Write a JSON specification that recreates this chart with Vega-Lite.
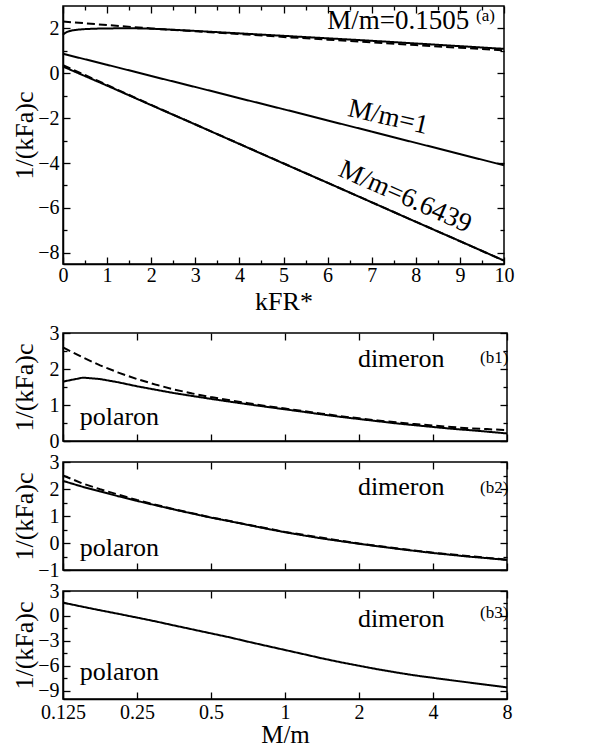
{
  "$schema": "https://vega.github.io/schema/vega-lite/v6.json",
  "padding": {"left": 10, "top": 4, "right": 5, "bottom": 0},
  "config": {
    "font": "Liberation Serif, Times New Roman, serif",
    "view": {"stroke": "black", "strokeWidth": 1.5},
    "style": {
      "guide-label": {"font": "Liberation Serif, Times New Roman, serif", "fill": "black"},
      "guide-title": {"font": "Liberation Serif, Times New Roman, serif", "fill": "black"}
    },
    "axis": {
      "labelFont": "Liberation Serif, Times New Roman, serif", "titleFont": "Liberation Serif, Times New Roman, serif",
      "labelFontSize": 20, "titleFontSize": 26, "labelColor": "black", "titleColor": "black",
      "titleFontWeight": "normal", "domainColor": "black", "domainWidth": 1.5,
      "tickColor": "black", "tickWidth": 1.3, "grid": false, "labelPadding": 11, "labelOverlap": false,
      "labelFlush": false, "format": "~g"
    },
    "text": {"font": "Liberation Serif, Times New Roman, serif", "color": "black"},
    "line": {"color": "black", "strokeWidth": 2}
  },
  "datasets": {
    "a": [
      {"series": "s0", "style": "solid", "x": 0, "y": 1.72},
      {"series": "s0", "style": "solid", "x": 0.05, "y": 1.8},
      {"series": "s0", "style": "solid", "x": 0.1, "y": 1.85},
      {"series": "s0", "style": "solid", "x": 0.2, "y": 1.91},
      {"series": "s0", "style": "solid", "x": 0.35, "y": 1.95},
      {"series": "s0", "style": "solid", "x": 0.5, "y": 1.97},
      {"series": "s0", "style": "solid", "x": 0.75, "y": 1.99},
      {"series": "s0", "style": "solid", "x": 1, "y": 2.0},
      {"series": "s0", "style": "solid", "x": 1.5, "y": 2.01},
      {"series": "s0", "style": "solid", "x": 2, "y": 1.99},
      {"series": "s0", "style": "solid", "x": 3, "y": 1.89},
      {"series": "s0", "style": "solid", "x": 4, "y": 1.78},
      {"series": "s0", "style": "solid", "x": 5, "y": 1.67},
      {"series": "s0", "style": "solid", "x": 6, "y": 1.56},
      {"series": "s0", "style": "solid", "x": 7, "y": 1.45},
      {"series": "s0", "style": "solid", "x": 8, "y": 1.33},
      {"series": "s0", "style": "solid", "x": 9, "y": 1.21},
      {"series": "s0", "style": "solid", "x": 10, "y": 1.09},
      {"series": "d0", "style": "dashed", "x": 0, "y": 2.31},
      {"series": "d0", "style": "dashed", "x": 1, "y": 2.15},
      {"series": "d0", "style": "dashed", "x": 2, "y": 2.0},
      {"series": "d0", "style": "dashed", "x": 3, "y": 1.87},
      {"series": "d0", "style": "dashed", "x": 4, "y": 1.75},
      {"series": "d0", "style": "dashed", "x": 5, "y": 1.62},
      {"series": "d0", "style": "dashed", "x": 6, "y": 1.5},
      {"series": "d0", "style": "dashed", "x": 7, "y": 1.38},
      {"series": "d0", "style": "dashed", "x": 8, "y": 1.26},
      {"series": "d0", "style": "dashed", "x": 9, "y": 1.14},
      {"series": "d0", "style": "dashed", "x": 10, "y": 1.02},
      {"series": "s1", "style": "solid", "x": 0, "y": 0.87},
      {"series": "s1", "style": "solid", "x": 1, "y": 0.38},
      {"series": "s1", "style": "solid", "x": 2, "y": -0.12},
      {"series": "s1", "style": "solid", "x": 3, "y": -0.61},
      {"series": "s1", "style": "solid", "x": 4, "y": -1.11},
      {"series": "s1", "style": "solid", "x": 5, "y": -1.6},
      {"series": "s1", "style": "solid", "x": 6, "y": -2.1},
      {"series": "s1", "style": "solid", "x": 7, "y": -2.6},
      {"series": "s1", "style": "solid", "x": 8, "y": -3.1},
      {"series": "s1", "style": "solid", "x": 9, "y": -3.6},
      {"series": "s1", "style": "solid", "x": 10, "y": -4.1},
      {"series": "s6", "style": "solid", "x": 0, "y": 0.3},
      {"series": "s6", "style": "solid", "x": 1, "y": -0.55},
      {"series": "s6", "style": "solid", "x": 2, "y": -1.42},
      {"series": "s6", "style": "solid", "x": 3, "y": -2.28},
      {"series": "s6", "style": "solid", "x": 4, "y": -3.15},
      {"series": "s6", "style": "solid", "x": 5, "y": -4.02},
      {"series": "s6", "style": "solid", "x": 6, "y": -4.88},
      {"series": "s6", "style": "solid", "x": 7, "y": -5.75},
      {"series": "s6", "style": "solid", "x": 8, "y": -6.62},
      {"series": "s6", "style": "solid", "x": 9, "y": -7.48},
      {"series": "s6", "style": "solid", "x": 10, "y": -8.35},
      {"series": "d6", "style": "dashed", "x": 0, "y": 0.36},
      {"series": "d6", "style": "dashed", "x": 1, "y": -0.52},
      {"series": "d6", "style": "dashed", "x": 2, "y": -1.41},
      {"series": "d6", "style": "dashed", "x": 10, "y": -8.35}
    ],
    "aText": [
      {"label": "M/m=0.1505", "x": 7.6, "y": 2.33, "kind": "flat"},
      {"label": "M/m=1", "x": 7.37, "y": -1.95, "kind": "r1"},
      {"label": "M/m=6.6439", "x": 7.76, "y": -5.5, "kind": "r6"}
    ],
    "b1": [
      {"series": "s", "style": "solid", "x": 0.125, "y": 1.65},
      {"series": "s", "style": "solid", "x": 0.1505, "y": 1.76},
      {"series": "s", "style": "solid", "x": 0.177, "y": 1.72},
      {"series": "s", "style": "solid", "x": 0.21, "y": 1.63},
      {"series": "s", "style": "solid", "x": 0.25, "y": 1.52},
      {"series": "s", "style": "solid", "x": 0.3, "y": 1.42},
      {"series": "s", "style": "solid", "x": 0.354, "y": 1.33},
      {"series": "s", "style": "solid", "x": 0.42, "y": 1.25},
      {"series": "s", "style": "solid", "x": 0.5, "y": 1.17},
      {"series": "s", "style": "solid", "x": 0.6, "y": 1.09},
      {"series": "s", "style": "solid", "x": 0.707, "y": 1.02},
      {"series": "s", "style": "solid", "x": 0.84, "y": 0.95},
      {"series": "s", "style": "solid", "x": 1, "y": 0.88},
      {"series": "s", "style": "solid", "x": 1.19, "y": 0.81},
      {"series": "s", "style": "solid", "x": 1.41, "y": 0.74},
      {"series": "s", "style": "solid", "x": 1.68, "y": 0.67},
      {"series": "s", "style": "solid", "x": 2, "y": 0.61},
      {"series": "s", "style": "solid", "x": 2.38, "y": 0.55},
      {"series": "s", "style": "solid", "x": 2.83, "y": 0.49},
      {"series": "s", "style": "solid", "x": 3.36, "y": 0.44},
      {"series": "s", "style": "solid", "x": 4, "y": 0.39},
      {"series": "s", "style": "solid", "x": 4.76, "y": 0.34},
      {"series": "s", "style": "solid", "x": 5.66, "y": 0.3},
      {"series": "s", "style": "solid", "x": 6.64, "y": 0.26},
      {"series": "s", "style": "solid", "x": 8, "y": 0.21},
      {"series": "d", "style": "dashed", "x": 0.125, "y": 2.6},
      {"series": "d", "style": "dashed", "x": 0.1505, "y": 2.32},
      {"series": "d", "style": "dashed", "x": 0.177, "y": 2.1},
      {"series": "d", "style": "dashed", "x": 0.21, "y": 1.9},
      {"series": "d", "style": "dashed", "x": 0.25, "y": 1.72},
      {"series": "d", "style": "dashed", "x": 0.3, "y": 1.56},
      {"series": "d", "style": "dashed", "x": 0.354, "y": 1.43},
      {"series": "d", "style": "dashed", "x": 0.42, "y": 1.32},
      {"series": "d", "style": "dashed", "x": 0.5, "y": 1.22},
      {"series": "d", "style": "dashed", "x": 0.6, "y": 1.13},
      {"series": "d", "style": "dashed", "x": 0.707, "y": 1.05},
      {"series": "d", "style": "dashed", "x": 0.84, "y": 0.97},
      {"series": "d", "style": "dashed", "x": 1, "y": 0.9},
      {"series": "d", "style": "dashed", "x": 1.19, "y": 0.83},
      {"series": "d", "style": "dashed", "x": 1.41, "y": 0.76},
      {"series": "d", "style": "dashed", "x": 1.68, "y": 0.69},
      {"series": "d", "style": "dashed", "x": 2, "y": 0.63},
      {"series": "d", "style": "dashed", "x": 2.38, "y": 0.57},
      {"series": "d", "style": "dashed", "x": 2.83, "y": 0.52},
      {"series": "d", "style": "dashed", "x": 3.36, "y": 0.47},
      {"series": "d", "style": "dashed", "x": 4, "y": 0.43},
      {"series": "d", "style": "dashed", "x": 4.76, "y": 0.39},
      {"series": "d", "style": "dashed", "x": 5.66, "y": 0.35},
      {"series": "d", "style": "dashed", "x": 6.64, "y": 0.33},
      {"series": "d", "style": "dashed", "x": 8, "y": 0.3}
    ],
    "b2": [
      {"series": "s", "style": "solid", "x": 0.125, "y": 2.3},
      {"series": "s", "style": "solid", "x": 0.1505, "y": 2.08},
      {"series": "s", "style": "solid", "x": 0.177, "y": 1.91},
      {"series": "s", "style": "solid", "x": 0.21, "y": 1.73},
      {"series": "s", "style": "solid", "x": 0.25, "y": 1.56},
      {"series": "s", "style": "solid", "x": 0.3, "y": 1.39},
      {"series": "s", "style": "solid", "x": 0.354, "y": 1.24},
      {"series": "s", "style": "solid", "x": 0.42, "y": 1.09},
      {"series": "s", "style": "solid", "x": 0.5, "y": 0.94},
      {"series": "s", "style": "solid", "x": 0.6, "y": 0.8},
      {"series": "s", "style": "solid", "x": 0.707, "y": 0.67},
      {"series": "s", "style": "solid", "x": 0.84, "y": 0.53},
      {"series": "s", "style": "solid", "x": 1, "y": 0.4},
      {"series": "s", "style": "solid", "x": 1.19, "y": 0.28},
      {"series": "s", "style": "solid", "x": 1.41, "y": 0.17},
      {"series": "s", "style": "solid", "x": 1.68, "y": 0.07},
      {"series": "s", "style": "solid", "x": 2, "y": -0.03},
      {"series": "s", "style": "solid", "x": 2.38, "y": -0.12},
      {"series": "s", "style": "solid", "x": 2.83, "y": -0.21},
      {"series": "s", "style": "solid", "x": 3.36, "y": -0.29},
      {"series": "s", "style": "solid", "x": 4, "y": -0.37},
      {"series": "s", "style": "solid", "x": 4.76, "y": -0.44},
      {"series": "s", "style": "solid", "x": 5.66, "y": -0.51},
      {"series": "s", "style": "solid", "x": 6.64, "y": -0.56},
      {"series": "s", "style": "solid", "x": 8, "y": -0.63},
      {"series": "d", "style": "dashed", "x": 0.125, "y": 2.5},
      {"series": "d", "style": "dashed", "x": 0.1505, "y": 2.2},
      {"series": "d", "style": "dashed", "x": 0.177, "y": 1.99},
      {"series": "d", "style": "dashed", "x": 0.21, "y": 1.79},
      {"series": "d", "style": "dashed", "x": 0.25, "y": 1.59},
      {"series": "d", "style": "dashed", "x": 0.3, "y": 1.41},
      {"series": "d", "style": "dashed", "x": 0.354, "y": 1.25},
      {"series": "d", "style": "dashed", "x": 0.5, "y": 0.95},
      {"series": "d", "style": "dashed", "x": 1, "y": 0.41},
      {"series": "d", "style": "dashed", "x": 2, "y": -0.02},
      {"series": "d", "style": "dashed", "x": 4, "y": -0.36},
      {"series": "d", "style": "dashed", "x": 8, "y": -0.62}
    ],
    "b3": [
      {"series": "s", "style": "solid", "x": 0.125, "y": 1.6},
      {"series": "s", "style": "solid", "x": 0.1505, "y": 1.1},
      {"series": "s", "style": "solid", "x": 0.177, "y": 0.68},
      {"series": "s", "style": "solid", "x": 0.21, "y": 0.25},
      {"series": "s", "style": "solid", "x": 0.25, "y": -0.2},
      {"series": "s", "style": "solid", "x": 0.3, "y": -0.68},
      {"series": "s", "style": "solid", "x": 0.354, "y": -1.15},
      {"series": "s", "style": "solid", "x": 0.42, "y": -1.62},
      {"series": "s", "style": "solid", "x": 0.5, "y": -2.1},
      {"series": "s", "style": "solid", "x": 0.6, "y": -2.6},
      {"series": "s", "style": "solid", "x": 0.707, "y": -3.1},
      {"series": "s", "style": "solid", "x": 0.84, "y": -3.6},
      {"series": "s", "style": "solid", "x": 1, "y": -4.1},
      {"series": "s", "style": "solid", "x": 1.19, "y": -4.6},
      {"series": "s", "style": "solid", "x": 1.41, "y": -5.1},
      {"series": "s", "style": "solid", "x": 1.68, "y": -5.57},
      {"series": "s", "style": "solid", "x": 2, "y": -6.0},
      {"series": "s", "style": "solid", "x": 2.38, "y": -6.42},
      {"series": "s", "style": "solid", "x": 2.83, "y": -6.8},
      {"series": "s", "style": "solid", "x": 3.36, "y": -7.15},
      {"series": "s", "style": "solid", "x": 4, "y": -7.45},
      {"series": "s", "style": "solid", "x": 4.76, "y": -7.75},
      {"series": "s", "style": "solid", "x": 5.66, "y": -8.03},
      {"series": "s", "style": "solid", "x": 6.64, "y": -8.3},
      {"series": "s", "style": "solid", "x": 8, "y": -8.6}
    ],
    "b1Text": [
      {"label": "dimeron", "x": 2.97, "y": 2.27},
      {"label": "polaron", "x": 0.212, "y": 0.66}
    ],
    "b1Tag": [{"label": "(b1)", "x": 7.1, "y": 2.3}],
    "b2Text": [
      {"label": "dimeron", "x": 2.97, "y": 2.07},
      {"label": "polaron", "x": 0.212, "y": -0.17}
    ],
    "b2Tag": [{"label": "(b2)", "x": 7.1, "y": 2.05}],
    "b3Text": [
      {"label": "dimeron", "x": 2.97, "y": -0.4},
      {"label": "polaron", "x": 0.212, "y": -6.75}
    ],
    "b3Tag": [{"label": "(b3)", "x": 7.1, "y": 0.4}],
    "aTag": [{"label": "(a)", "x": 9.58, "y": 2.55}]
  },
  "vconcat": [
    {
      "width": 441,
      "height": 258,
      "resolve": {"axis": {"x": "independent", "y": "independent"}},
      "layer": [
        {
          "data": {"name": "a"},
          "mark": {"type": "line"},
          "encoding": {
            "x": {"field": "x", "type": "quantitative", "scale": {"domain": [0, 10], "nice": false},
              "axis": {"orient": "bottom", "title": "kFR*", "titlePadding": 0, "labelPadding": 8,
                "values": [0,0.5,1,1.5,2,2.5,3,3.5,4,4.5,5,5.5,6,6.5,7,7.5,8,8.5,9,9.5,10],
                "labelExpr": "datum.value % 1 === 0 ? datum.label : ''",
                "tickSize": {"condition": {"test": "datum.value % 1 !== 0", "value": -4}, "value": -7}}},
            "y": {"field": "y", "type": "quantitative", "scale": {"domain": [-8.5, 3], "nice": false, "zero": false},
              "axis": {"orient": "left", "title": "1/(kFa)c", "titlePadding": 2, "minExtent": 24, "maxExtent": 24,
                "values": [-8,-7,-6,-5,-4,-3,-2,-1,0,1,2],
                "labelExpr": "datum.value % 2 === 0 ? datum.label : ''",
                "tickSize": {"condition": {"test": "datum.value % 2 !== 0", "value": -4}, "value": -7}}},
            "detail": {"field": "series"},
            "strokeDash": {"field": "style", "type": "nominal", "scale": {"domain": ["solid", "dashed"], "range": [[1, 0], [8, 4]]}, "legend": null}
          }
        },
        {
          "data": {"name": "a"},
          "mark": {"type": "line", "opacity": 0},
          "encoding": {
            "x": {"field": "x", "type": "quantitative",
              "axis": {"orient": "top", "title": null, "labels": false, "domain": false,
                "values": [0,0.5,1,1.5,2,2.5,3,3.5,4,4.5,5,5.5,6,6.5,7,7.5,8,8.5,9,9.5,10],
                "tickSize": {"condition": {"test": "datum.value % 1 !== 0", "value": -4}, "value": -7}}},
            "y": {"field": "y", "type": "quantitative",
              "axis": {"orient": "right", "title": null, "labels": false, "domain": false,
                "values": [-8,-7,-6,-5,-4,-3,-2,-1,0,1,2],
                "tickSize": {"condition": {"test": "datum.value % 2 !== 0", "value": -4}, "value": -7}}},
            "detail": {"field": "series"}
          }
        },
        {
          "data": {"name": "aText"},
          "transform": [{"filter": "datum.kind === 'flat'"}],
          "mark": {"type": "text", "fontSize": 27, "align": "center", "baseline": "middle"},
          "encoding": {
            "x": {"field": "x", "type": "quantitative", "axis": null},
            "y": {"field": "y", "type": "quantitative", "axis": null},
            "text": {"field": "label"}
          }
        },
        {
          "data": {"name": "aText"},
          "transform": [{"filter": "datum.kind === 'r1'"}],
          "mark": {"type": "text", "fontSize": 27, "align": "center", "baseline": "middle", "angle": 13},
          "encoding": {
            "x": {"field": "x", "type": "quantitative", "axis": null},
            "y": {"field": "y", "type": "quantitative", "axis": null},
            "text": {"field": "label"}
          }
        },
        {
          "data": {"name": "aText"},
          "transform": [{"filter": "datum.kind === 'r6'"}],
          "mark": {"type": "text", "fontSize": 27, "align": "center", "baseline": "middle", "angle": 24},
          "encoding": {
            "x": {"field": "x", "type": "quantitative", "axis": null},
            "y": {"field": "y", "type": "quantitative", "axis": null},
            "text": {"field": "label"}
          }
        },
        {
          "data": {"name": "aTag"},
          "mark": {"type": "text", "fontSize": 17, "align": "center", "baseline": "middle"},
          "encoding": {
            "x": {"field": "x", "type": "quantitative", "axis": null},
            "y": {"field": "y", "type": "quantitative", "axis": null},
            "text": {"field": "label"}
          }
        }
      ]
    },
    {
      "spacing": 21,
      "bounds": "flush",
      "vconcat": [
        {
          "width": 444,
          "height": 108,
          "resolve": {"axis": {"x": "independent", "y": "independent"}},
          "layer": [
            {
              "data": {"name": "b1"},
              "mark": {"type": "line"},
              "encoding": {
                "x": {"field": "x", "type": "quantitative", "scale": {"type": "log", "base": 2, "domain": [0.125, 8], "nice": false},
                  "axis": {"orient": "bottom", "title": null, "labels": false, "values": [0.125,0.25,0.5,1,2,4,8], "tickSize": -7}},
                "y": {"field": "y", "type": "quantitative", "scale": {"domain": [0, 3], "nice": false, "zero": false},
                  "axis": {"orient": "left", "title": "1/(kFa)c", "titlePadding": 2, "minExtent": 24, "maxExtent": 24,
                    "values": [0,0.5,1,1.5,2,2.5,3],
                    "labelExpr": "datum.value % 1 === 0 ? datum.label : ''",
                    "tickSize": {"condition": {"test": "datum.value % 1 !== 0", "value": -4}, "value": -7}}},
                "detail": {"field": "series"},
                "strokeDash": {"field": "style", "type": "nominal", "scale": {"domain": ["solid", "dashed"], "range": [[1, 0], [8, 4]]}, "legend": null}
              }
            },
            {
              "data": {"name": "b1"},
              "mark": {"type": "line", "opacity": 0},
              "encoding": {
                "x": {"field": "x", "type": "quantitative",
                  "axis": {"orient": "top", "title": null, "labels": false, "domain": false, "values": [0.125,0.25,0.5,1,2,4,8], "tickSize": -7}},
                "y": {"field": "y", "type": "quantitative",
                  "axis": {"orient": "right", "title": null, "labels": false, "domain": false,
                    "values": [0,0.5,1,1.5,2,2.5,3],
                    "tickSize": {"condition": {"test": "datum.value % 1 !== 0", "value": -4}, "value": -7}}},
                "detail": {"field": "series"}
              }
            },
            {
              "data": {"name": "b1Text"},
              "mark": {"type": "text", "fontSize": 26, "align": "center", "baseline": "middle"},
              "encoding": {
                "x": {"field": "x", "type": "quantitative", "axis": null},
                "y": {"field": "y", "type": "quantitative", "axis": null},
                "text": {"field": "label"}
              }
            },
            {
              "data": {"name": "b1Tag"},
              "mark": {"type": "text", "fontSize": 17, "align": "center", "baseline": "middle"},
              "encoding": {
                "x": {"field": "x", "type": "quantitative", "axis": null},
                "y": {"field": "y", "type": "quantitative", "axis": null},
                "text": {"field": "label"}
              }
            }
          ]
        },
        {
          "width": 444,
          "height": 108,
          "resolve": {"axis": {"x": "independent", "y": "independent"}},
          "layer": [
            {
              "data": {"name": "b2"},
              "mark": {"type": "line"},
              "encoding": {
                "x": {"field": "x", "type": "quantitative", "scale": {"type": "log", "base": 2, "domain": [0.125, 8], "nice": false},
                  "axis": {"orient": "bottom", "title": null, "labels": false, "values": [0.125,0.25,0.5,1,2,4,8], "tickSize": -7}},
                "y": {"field": "y", "type": "quantitative", "scale": {"domain": [-1, 3], "nice": false, "zero": false},
                  "axis": {"orient": "left", "title": "1/(kFa)c", "titlePadding": 2, "minExtent": 24, "maxExtent": 24,
                    "values": [-1,-0.5,0,0.5,1,1.5,2,2.5,3],
                    "labelExpr": "datum.value % 1 === 0 ? datum.label : ''",
                    "tickSize": {"condition": {"test": "datum.value % 1 !== 0", "value": -4}, "value": -7}}},
                "detail": {"field": "series"},
                "strokeDash": {"field": "style", "type": "nominal", "scale": {"domain": ["solid", "dashed"], "range": [[1, 0], [8, 4]]}, "legend": null}
              }
            },
            {
              "data": {"name": "b2"},
              "mark": {"type": "line", "opacity": 0},
              "encoding": {
                "x": {"field": "x", "type": "quantitative",
                  "axis": {"orient": "top", "title": null, "labels": false, "domain": false, "values": [0.125,0.25,0.5,1,2,4,8], "tickSize": -7}},
                "y": {"field": "y", "type": "quantitative",
                  "axis": {"orient": "right", "title": null, "labels": false, "domain": false,
                    "values": [-1,-0.5,0,0.5,1,1.5,2,2.5,3],
                    "tickSize": {"condition": {"test": "datum.value % 1 !== 0", "value": -4}, "value": -7}}},
                "detail": {"field": "series"}
              }
            },
            {
              "data": {"name": "b2Text"},
              "mark": {"type": "text", "fontSize": 26, "align": "center", "baseline": "middle"},
              "encoding": {
                "x": {"field": "x", "type": "quantitative", "axis": null},
                "y": {"field": "y", "type": "quantitative", "axis": null},
                "text": {"field": "label"}
              }
            },
            {
              "data": {"name": "b2Tag"},
              "mark": {"type": "text", "fontSize": 17, "align": "center", "baseline": "middle"},
              "encoding": {
                "x": {"field": "x", "type": "quantitative", "axis": null},
                "y": {"field": "y", "type": "quantitative", "axis": null},
                "text": {"field": "label"}
              }
            }
          ]
        },
        {
          "width": 444,
          "height": 108,
          "resolve": {"axis": {"x": "independent", "y": "independent"}},
          "layer": [
            {
              "data": {"name": "b3"},
              "mark": {"type": "line"},
              "encoding": {
                "x": {"field": "x", "type": "quantitative", "scale": {"type": "log", "base": 2, "domain": [0.125, 8], "nice": false},
                  "axis": {"orient": "bottom", "title": "M/m", "titleFontSize": 25, "titlePadding": 0, "labelPadding": 10, "values": [0.125,0.25,0.5,1,2,4,8], "tickSize": -7}},
                "y": {"field": "y", "type": "quantitative", "scale": {"domain": [-10, 3], "nice": false, "zero": false},
                  "axis": {"orient": "left", "title": "1/(kFa)c", "titlePadding": 2, "minExtent": 24, "maxExtent": 24,
                    "values": [-9,-7.5,-6,-4.5,-3,-1.5,0,1.5,3],
                    "labelExpr": "datum.value % 3 === 0 ? datum.label : ''",
                    "tickSize": {"condition": {"test": "datum.value % 3 !== 0", "value": -4}, "value": -7}}},
                "detail": {"field": "series"},
                "strokeDash": {"field": "style", "type": "nominal", "scale": {"domain": ["solid", "dashed"], "range": [[1, 0], [8, 4]]}, "legend": null}
              }
            },
            {
              "data": {"name": "b3"},
              "mark": {"type": "line", "opacity": 0},
              "encoding": {
                "x": {"field": "x", "type": "quantitative",
                  "axis": {"orient": "top", "title": null, "labels": false, "domain": false, "values": [0.125,0.25,0.5,1,2,4,8], "tickSize": -7}},
                "y": {"field": "y", "type": "quantitative",
                  "axis": {"orient": "right", "title": null, "labels": false, "domain": false,
                    "values": [-9,-7.5,-6,-4.5,-3,-1.5,0,1.5,3],
                    "tickSize": {"condition": {"test": "datum.value % 3 !== 0", "value": -4}, "value": -7}}},
                "detail": {"field": "series"}
              }
            },
            {
              "data": {"name": "b3Text"},
              "mark": {"type": "text", "fontSize": 26, "align": "center", "baseline": "middle"},
              "encoding": {
                "x": {"field": "x", "type": "quantitative", "axis": null},
                "y": {"field": "y", "type": "quantitative", "axis": null},
                "text": {"field": "label"}
              }
            },
            {
              "data": {"name": "b3Tag"},
              "mark": {"type": "text", "fontSize": 17, "align": "center", "baseline": "middle"},
              "encoding": {
                "x": {"field": "x", "type": "quantitative", "axis": null},
                "y": {"field": "y", "type": "quantitative", "axis": null},
                "text": {"field": "label"}
              }
            }
          ]
        }
      ]
    }
  ],
  "spacing": 7
}
